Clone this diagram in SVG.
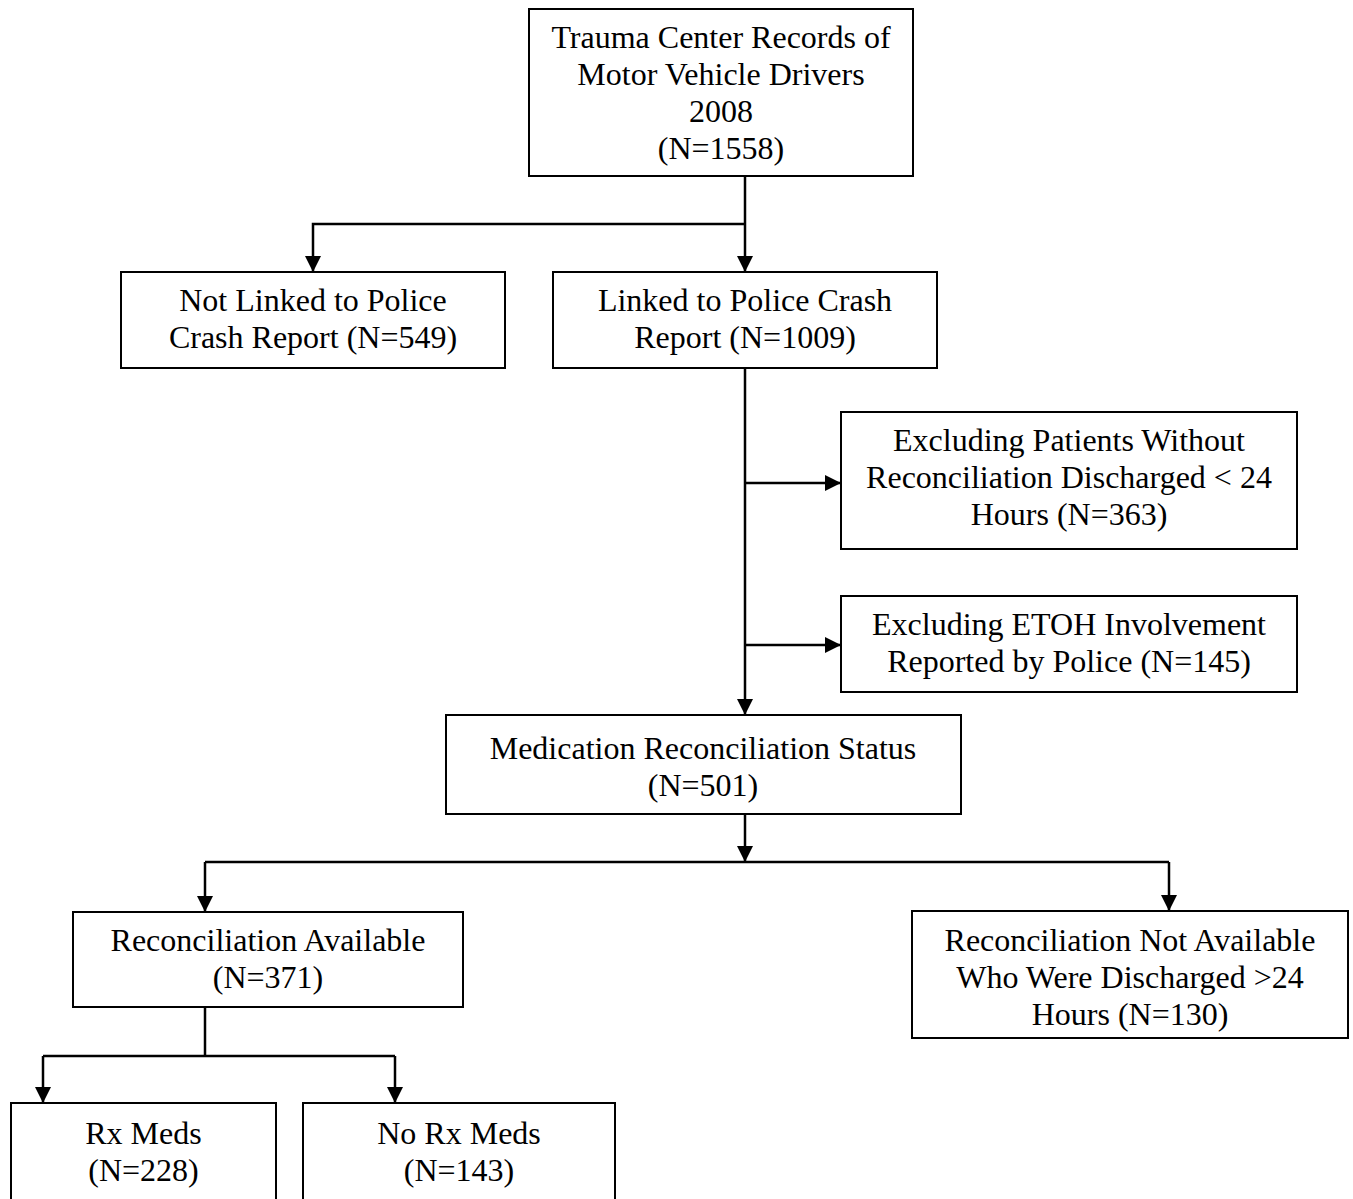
<svg xmlns="http://www.w3.org/2000/svg" width="1353" height="1199" viewBox="0 0 1353 1199">
<defs>
<marker id="ah" markerUnits="userSpaceOnUse" markerWidth="16" markerHeight="16" refX="16" refY="8" orient="auto">
<path d="M0,0 L16,8 L0,16 z" fill="#000"/>
</marker>
<style>
.box{fill:#fff;stroke:#000;stroke-width:2}
.t{font-family:"Liberation Serif","Times New Roman",serif;font-size:32px;fill:#000;text-anchor:middle}
.c{fill:none;stroke:#000;stroke-width:2.5}
.a{marker-end:url(#ah)}
</style>
</defs>
<rect width="1353" height="1199" fill="#fff"/>
<g id="connectors">
<path class="c a" d="M745,176 V272"/>
<path class="c a" d="M745,224 H313 V272"/>
<path class="c a" d="M745,368 V715"/>
<path class="c a" d="M745,483 H841"/>
<path class="c a" d="M745,645 H841"/>
<path class="c a" d="M745,814 V862"/>
<path class="c" d="M205,862 H1169"/>
<path class="c a" d="M205,862 V912"/>
<path class="c a" d="M1169,862 V911"/>
<path class="c" d="M205,1007 V1056"/>
<path class="c" d="M43,1056 H395"/>
<path class="c a" d="M43,1056 V1103"/>
<path class="c a" d="M395,1056 V1103"/>
</g>
<g id="n_trauma">
<rect class="box" x="529" y="9" width="384" height="167"/>
<text class="t"><tspan x="721" y="48">Trauma Center Records of</tspan><tspan x="721" y="85">Motor Vehicle Drivers</tspan><tspan x="721" y="122">2008</tspan><tspan x="721" y="159">(N=1558)</tspan></text>
</g>
<g id="n_notlinked">
<rect class="box" x="121" y="272" width="384" height="96"/>
<text class="t"><tspan x="313" y="311">Not Linked to Police</tspan><tspan x="313" y="348">Crash Report (N=549)</tspan></text>
</g>
<g id="n_linked">
<rect class="box" x="553" y="272" width="384" height="96"/>
<text class="t"><tspan x="745" y="311">Linked to Police Crash</tspan><tspan x="745" y="348">Report (N=1009)</tspan></text>
</g>
<g id="n_excl1">
<rect class="box" x="841" y="412" width="456" height="137"/>
<text class="t"><tspan x="1069" y="451">Excluding Patients Without</tspan><tspan x="1069" y="488">Reconciliation Discharged &lt; 24</tspan><tspan x="1069" y="525">Hours (N=363)</tspan></text>
</g>
<g id="n_excl2">
<rect class="box" x="841" y="596" width="456" height="96"/>
<text class="t"><tspan x="1069" y="635">Excluding ETOH Involvement</tspan><tspan x="1069" y="672">Reported by Police (N=145)</tspan></text>
</g>
<g id="n_med">
<rect class="box" x="446" y="715" width="515" height="99"/>
<text class="t"><tspan x="703" y="759">Medication Reconciliation Status</tspan><tspan x="703" y="796">(N=501)</tspan></text>
</g>
<g id="n_avail">
<rect class="box" x="73" y="912" width="390" height="95"/>
<text class="t"><tspan x="268" y="951">Reconciliation Available</tspan><tspan x="268" y="988">(N=371)</tspan></text>
</g>
<g id="n_notavail">
<rect class="box" x="912" y="911" width="436" height="127"/>
<text class="t"><tspan x="1130" y="951">Reconciliation Not Available</tspan><tspan x="1130" y="988">Who Were Discharged &gt;24</tspan><tspan x="1130" y="1025">Hours (N=130)</tspan></text>
</g>
<g id="n_rx">
<rect class="box" x="11" y="1103" width="265" height="120"/>
<text class="t"><tspan x="143.5" y="1144">Rx Meds</tspan><tspan x="143.5" y="1181">(N=228)</tspan></text>
</g>
<g id="n_norx">
<rect class="box" x="303" y="1103" width="312" height="120"/>
<text class="t"><tspan x="459" y="1144">No Rx Meds</tspan><tspan x="459" y="1181">(N=143)</tspan></text>
</g>
</svg>
